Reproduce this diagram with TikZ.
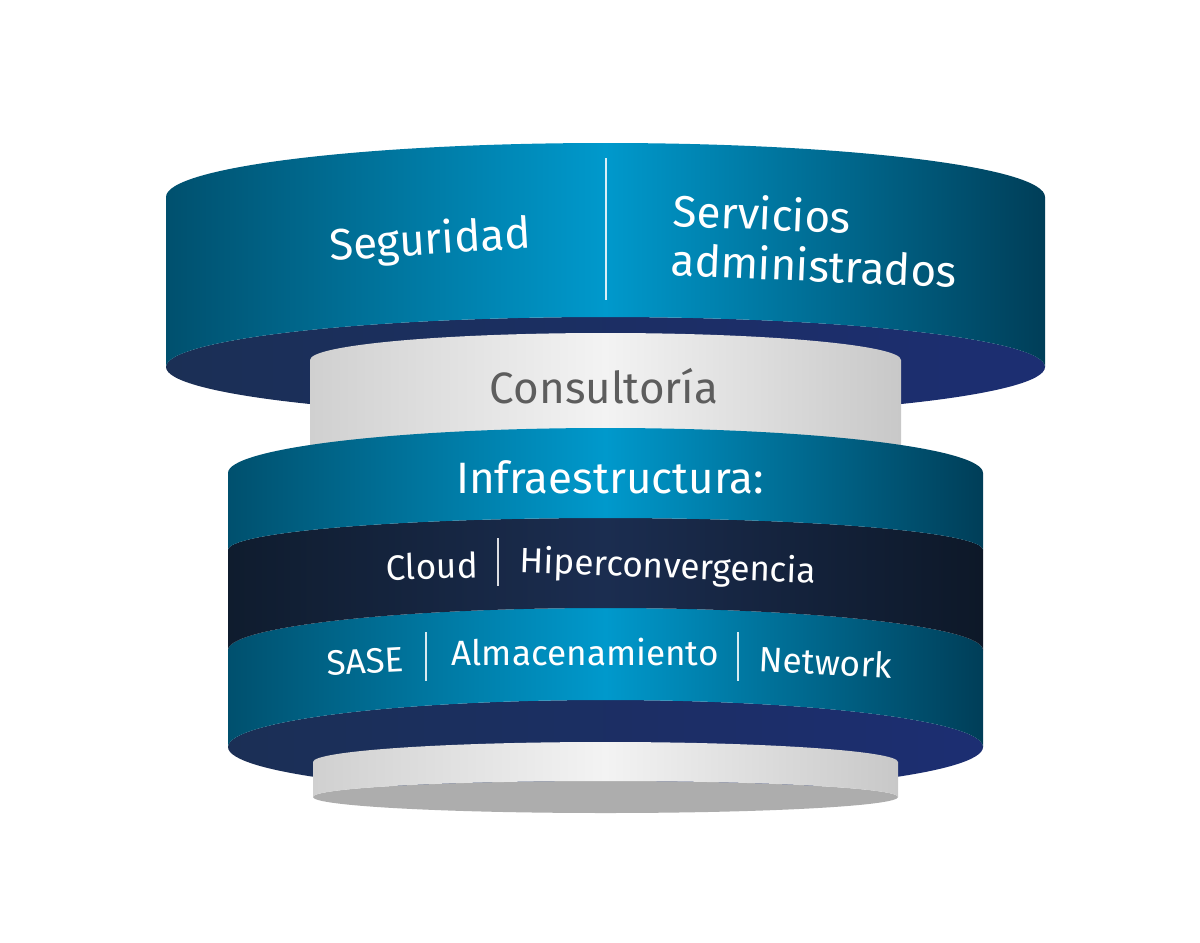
\documentclass[tikz,border=0pt]{standalone}
\usepackage{fontspec}
\setmainfont{Fira Sans}
\usetikzlibrary{positioning}
\definecolor{tealL}{HTML}{00506E}
\definecolor{tealM}{HTML}{0099CC}
\definecolor{tealR}{HTML}{003E58}
\definecolor{darkL}{HTML}{0F1C2E}
\definecolor{darkM}{HTML}{1B2D50}
\definecolor{darkR}{HTML}{0D1828}
\definecolor{navyL}{HTML}{1B2F55}
\definecolor{navyR}{HTML}{1C2E72}
\definecolor{grayL}{HTML}{D0D0D0}
\definecolor{grayM}{HTML}{F3F3F3}
\definecolor{grayR}{HTML}{C8C8C8}
\definecolor{grayfoot}{HTML}{ADADAD}
\definecolor{consulttext}{HTML}{5D5D5D}
\def\px{0.02cm}
\tikzstyle{bandblue} = [left color=tealL, right color=tealR, middle color=tealM]
\tikzstyle{banddark} = [left color=darkL, right color=darkR, middle color=darkM]
\tikzstyle{bandgray} = [left color=grayL, right color=grayR, middle color=grayM]
\tikzstyle{rim} = [left color=navyL, right color=navyR]

\begin{document}
\begin{tikzpicture}[
x=\px, y=-\px,
bigtext/.style = {text=white, font=\fontsize{25}{28}\selectfont, inner sep=0pt},
smalltext/.style = {text=white, font=\fontsize{20}{24}\selectfont, inner sep=0pt},
divider/.style = {draw=white, line width=1pt, opacity=0.85}
                    ]
\fill[white] (0,0) rectangle (1200,943);
\useasboundingbox (0,0) rectangle (1200,943);

% top ring
\shade[rim] (605.5,367) ellipse [x radius=439.5*\px, y radius=50*\px];
\shade[bandblue] (166,197) arc[start angle=180, end angle=0, x radius=439.5*\px, y radius=54*\px]
  -- (1045,367) arc[start angle=0, end angle=180, x radius=439.5*\px, y radius=50*\px] -- cycle;

% consulting drum
\shade[bandgray] (310,360) arc[start angle=180, end angle=0, x radius=295.5*\px, y radius=27*\px]
  -- (901,465) -- (310,465) -- cycle;

% infrastructure drum
\shade[rim] (605.5,747) ellipse [x radius=377.5*\px, y radius=47*\px];
\shade[bandblue] (228,650) arc[start angle=180, end angle=0, x radius=377.5*\px, y radius=42*\px]
  -- (983,747) arc[start angle=0, end angle=180, x radius=377.5*\px, y radius=47*\px] -- cycle;
\shade[banddark] (228,550) arc[start angle=180, end angle=0, x radius=377.5*\px, y radius=32*\px]
  -- (983,650) arc[start angle=0, end angle=180, x radius=377.5*\px, y radius=42*\px] -- cycle;
\shade[bandblue] (228,473) arc[start angle=180, end angle=0, x radius=377.5*\px, y radius=45*\px]
  -- (983,550) arc[start angle=0, end angle=180, x radius=377.5*\px, y radius=32*\px] -- cycle;

% base
\fill[grayfoot] (605.5,797) ellipse [x radius=292.5*\px, y radius=16*\px];
\shade[bandgray] (313,762) arc[start angle=180, end angle=0, x radius=292.5*\px, y radius=20*\px]
  -- (898,797) arc[start angle=0, end angle=180, x radius=292.5*\px, y radius=16*\px] -- cycle;

% labels
\node[bigtext, rotate=3.5] (seg) at (430,242) {Seguridad};
\node[bigtext, rotate=-2.5, align=left] (serv) at (815,240) {Servicios\\administrados};
\node[bigtext, text=consulttext] (consult) at (604,386) {Consultoría};
\node[bigtext] (infra) at (610,477) {Infraestructura:};
\node[smalltext, rotate=1.5] (cloud) at (432,566) {Cloud};
\node[smalltext, rotate=-2] (hiper) at (668,568) {Hiperconvergencia};
\node[smalltext, rotate=3] (sase) at (365,661) {SASE};
\node[smalltext] (almac) at (585,652) {Almacenamiento};
\node[smalltext, rotate=-3] (netw) at (826,662) {Network};

\draw[divider] (606,158) -- (606,300);
\draw[divider] (498,538) -- (498,586);
\draw[divider] (426,632) -- (426,681);
\draw[divider] (738,632) -- (738,681);
\end{tikzpicture}
\end{document}
